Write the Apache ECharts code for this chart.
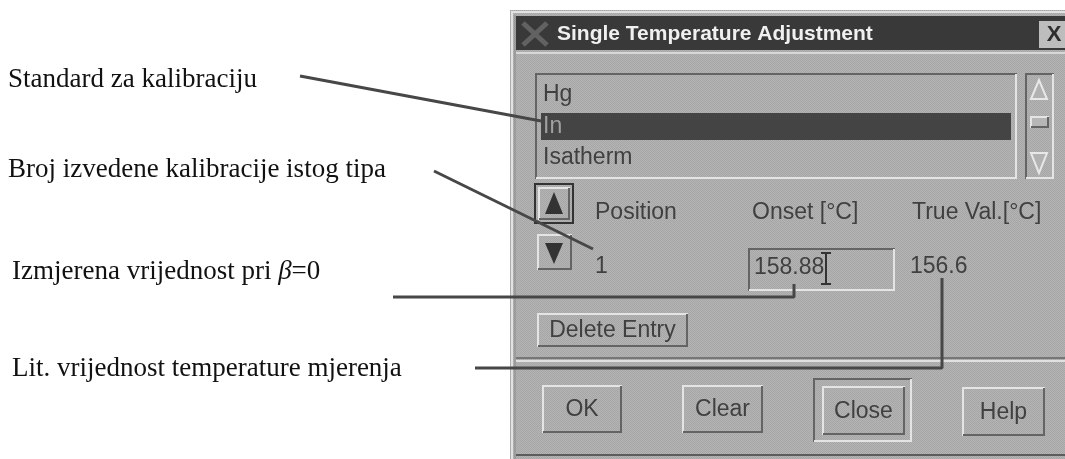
<!DOCTYPE html>
<html>
<head>
<meta charset="utf-8">
<script src="https://cdn.jsdelivr.net/npm/echarts@6/dist/echarts.min.js"></script>
<style>
html, body { margin: 0; padding: 0; background: #fff; }
#chart { width: 1065px; height: 459px; }
</style>
</head>
<body>
<div id="chart"></div>
<script>
// dialog content
var dialogTitle = 'Single Temperature Adjustment';
var listItems = ['Hg', 'In', 'Isatherm'];
var selectedItem = 1;
var columnHeaders = ['Position', 'Onset [°C]', 'True Val.[°C]'];
var rowValues = ['1', '158.88', '156.6'];
var buttonLabels = ['OK', 'Clear', 'Close', 'Help'];
var deleteLabel = 'Delete Entry';

// annotations on the left and their leader lines (points in page pixels)
var annotationLabels = [
    'Standard za kalibraciju',
    'Broj izvedene kalibracije istog tipa',
    'Izmjerena vrijednost pri {i|β}=0',
    'Lit. vrijednost temperature mjerenja'
];
var leaderLines = [
    [[300, 76], [541, 121]],
    [[434, 171], [593, 249]],
    [[393, 297], [794, 297], [794, 284]],
    [[475, 368], [942, 368], [942, 278]]
];

var W = 1065, H = 459;
var sans = '"Liberation Sans", Arial, sans-serif';
var serif = '"Liberation Serif", "Times New Roman", serif';
var ink = '#404040';

// dithered grey like the scanned motif dialog
var pc = document.createElement('canvas');
pc.width = 2; pc.height = 2;
var pctx = pc.getContext('2d');
pctx.fillStyle = '#b4b4b4'; pctx.fillRect(0, 0, 2, 2);
pctx.fillStyle = '#a6a6a6'; pctx.fillRect(0, 0, 1, 1); pctx.fillRect(1, 1, 1, 1);
var grey = { image: pc, repeat: 'repeat' };

var els = [];

function rect(x, y, w, h, fill) {
    els.push({ type: 'rect', shape: { x: x, y: y, width: w, height: h }, style: { fill: fill } });
}
function pline(points, color, width) {
    els.push({ type: 'polyline', shape: { points: points }, style: { stroke: color, lineWidth: width || 2, fill: null } });
}
function bevel(x, y, w, h, raised, fill) {
    var hi = '#e4e4e4', lo = '#646464';
    if (fill) rect(x, y, w, h, fill);
    pline([[x + 1, y + h], [x + 1, y + 1], [x + w, y + 1]], raised ? hi : lo, 2);
    pline([[x + w - 1, y + 1], [x + w - 1, y + h - 1], [x + 1, y + h - 1]], raised ? lo : hi, 2);
}
function text(str, x, y, opt) {
    opt = opt || {};
    els.push({
        type: 'text',
        style: {
            text: str, x: x, y: y,
            fill: opt.fill || ink,
            fontSize: opt.size || 23,
            fontFamily: opt.family || sans,
            fontWeight: opt.weight || 'normal',
            align: opt.align || 'left',
            verticalAlign: 'middle',
            rich: opt.rich
        }
    });
}
function button(label, x, y, w, h) {
    bevel(x, y, w, h, true, grey);
    text(label, x + w / 2, y + h / 2 + 1, { align: 'center' });
}
function arrow(points) {
    // scrollbar arrow: light left edge, dark right edge
    els.push({ type: 'polygon', shape: { points: points }, style: { fill: '#b2b2b2', stroke: '#e8e8e8', lineWidth: 2 } });
}

// dialog body
rect(510, 10, 560, 450, grey);
pline([[512, 460], [512, 12], [1066, 12]], '#e2e2e2', 2);
pline([[515, 460], [515, 15]], '#8a8a8a', 1);

// title bar
rect(516, 16, 560, 34, '#393939');
pline([[523, 23], [547, 45]], '#626262', 5);
pline([[547, 23], [523, 45]], '#626262', 5);
text(dialogTitle, 557, 34, { fill: '#f0f0f0', weight: 'bold', size: 21 });
rect(1039, 21, 30, 27, '#bdbdbd');
text('X', 1054, 35, { weight: 'bold', size: 22, align: 'center', fill: '#2e2e2e' });
pline([[516, 53], [1066, 53]], '#d8d8d8', 2);

// list box
bevel(535, 73, 482, 106, false, grey);
rect(541, 113, 470, 27, '#444444');
var rowY = [95, 127, 158];
listItems.forEach(function (s, i) {
    text(s, 543, rowY[i], { fill: i === selectedItem ? '#a0a0a0' : ink });
});

// scrollbar
bevel(1025, 73, 29, 106, false, grey);
arrow([[1031, 99], [1039, 80], [1047, 99]]);
bevel(1030, 116, 19, 12, true, '#b6b6b6');
arrow([[1031, 153], [1047, 153], [1039, 173]]);

// spin buttons
els.push({ type: 'rect', shape: { x: 535, y: 184, width: 38, height: 39 }, style: { fill: null, stroke: '#333', lineWidth: 2 } });
bevel(538, 187, 32, 33, true, grey);
els.push({ type: 'polygon', shape: { points: [[545, 214], [554, 192], [563, 214]] }, style: { fill: '#333' } });
bevel(537, 234, 35, 36, true, grey);
els.push({ type: 'polygon', shape: { points: [[545, 243], [563, 243], [554, 264]] }, style: { fill: '#333' } });

// column headers and the single row
var colX = [595, 752, 912];
columnHeaders.forEach(function (s, i) { text(s, colX[i], 213); });
bevel(748, 248, 147, 43, false, grey);
text(rowValues[0], 595, 267);
text(rowValues[1], 754, 268);
text(rowValues[2], 910, 267);
// text cursor
pline([[826, 254], [826, 283]], '#333', 2);
pline([[821, 253], [831, 253]], '#333', 2);
pline([[821, 284], [831, 284]], '#333', 2);

button(deleteLabel, 537, 313, 151, 34);

// separator
pline([[516, 358], [1066, 358]], '#767676', 2);
pline([[516, 361], [1066, 361]], '#e0e0e0', 2);

// bottom buttons
button(buttonLabels[0], 542, 385, 80, 48);
button(buttonLabels[1], 682, 385, 81, 48);
bevel(813, 378, 99, 64, false, null);
button(buttonLabels[2], 822, 386, 83, 49);
button(buttonLabels[3], 962, 387, 83, 49);
pline([[516, 455], [1066, 455]], '#5c5c5c', 2);

// annotation labels
var labelPos = [[8, 80], [8, 170], [12, 272], [12, 369]];
annotationLabels.forEach(function (s, i) {
    text(s, labelPos[i][0], labelPos[i][1], {
        fill: '#111', size: 27, family: serif,
        rich: { i: { fontStyle: 'italic', fontSize: 27, fontFamily: serif, fill: '#111' } }
    });
});

var chart = echarts.init(document.getElementById('chart'), null, { renderer: 'canvas' });
chart.setOption({
    animation: false,
    grid: { left: 0, right: 0, top: 0, bottom: 0 },
    xAxis: { type: 'value', min: 0, max: W, show: false },
    yAxis: { type: 'value', min: 0, max: H, inverse: true, show: false },
    graphic: { elements: els },
    series: leaderLines.map(function (pts) {
        return {
            type: 'line',
            data: pts,
            symbol: 'none',
            silent: true,
            z: 10,
            lineStyle: { color: '#474747', width: 3 }
        };
    })
});
</script>
</body>
</html>
